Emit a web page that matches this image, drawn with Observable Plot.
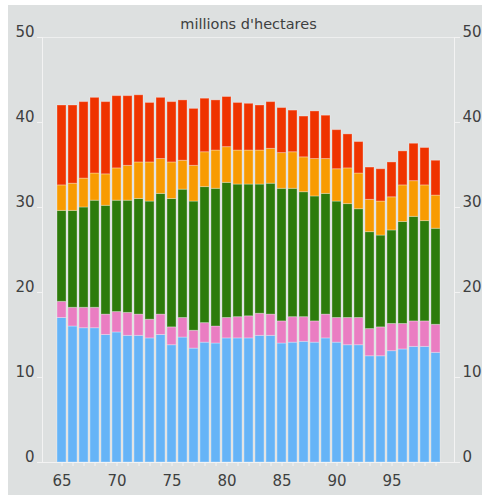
<!DOCTYPE html>
<html><head><meta charset="utf-8">
<script src="https://cdn.jsdelivr.net/npm/d3@7"></script>
<script src="https://cdn.jsdelivr.net/npm/@observablehq/plot@0.6"></script>
<style>
body{margin:0;background:#fff;}
#wrap{position:relative;width:488px;height:495px;overflow:hidden;}
#panel{position:absolute;left:8px;top:5px;width:474px;height:490px;background:#dde0e0;}
#chart{position:absolute;left:0;top:0;}
</style></head><body>
<div id="wrap"><div id="panel"></div><div id="chart"></div></div>
<script>
const years = [1965,1966,1967,1968,1969,1970,1971,1972,1973,1974,1975,1976,1977,1978,1979,1980,1981,1982,1983,1984,1985,1986,1987,1988,1989,1990,1991,1992,1993,1994,1995,1996,1997,1998,1999];
const seriesNames = ["bleu","rose","vert","orange","rouge"];
const blue   = [17.0,16.0,15.8,15.8,15.0,15.3,14.9,14.9,14.6,15.0,13.8,14.7,13.4,14.1,14.0,14.6,14.6,14.6,14.9,14.9,14.0,14.1,14.2,14.1,14.6,14.1,13.8,13.8,12.5,12.5,13.1,13.3,13.6,13.6,12.9];
const pink   = [1.9,2.2,2.4,2.4,2.4,2.4,2.7,2.5,2.2,2.4,2.1,2.3,2.1,2.3,2.0,2.4,2.5,2.6,2.6,2.5,2.6,3.0,2.9,2.5,2.8,2.9,3.2,3.2,3.2,3.4,3.2,3.0,3.0,3.0,3.3];
const green  = [10.7,11.4,11.8,12.6,12.8,13.1,13.2,13.6,13.9,14.2,15.1,15.1,15.2,16.0,16.2,15.9,15.6,15.5,15.2,15.4,15.6,15.1,14.7,14.7,14.2,13.7,13.4,12.8,11.4,10.8,11.0,12.0,12.3,11.8,11.3];
const orange = [3.0,3.2,3.4,3.2,3.7,3.8,4.1,4.3,4.6,4.1,4.3,3.4,4.2,4.1,4.5,4.2,4.0,4.0,4.0,4.1,4.2,4.3,4.1,4.4,4.1,3.8,4.2,4.2,3.8,4.0,3.9,4.3,4.2,4.2,3.9];
const red    = [9.4,9.2,9.0,8.9,8.5,8.5,8.2,7.9,7.0,7.2,7.1,7.1,6.7,6.3,5.9,5.9,5.6,5.5,5.3,5.5,5.3,4.9,4.8,5.6,5.1,4.6,4.0,3.7,3.8,3.8,4.1,4.0,4.4,4.4,4.1];
const colors = ["#66b4f7","#ea7dc2","#2d7b0b","#f89b02","#ef3300"];
const title = "millions d'hectares";
const yTicks = [0,10,20,30,40,50];
const xLabelYears = [1965,1970,1975,1980,1985,1990,1995];
const xLabels = ["65","70","75","80","85","90","95"];

const seriesValues = [blue, pink, green, orange, red];
const table = [];
years.forEach((yr, i) => {
  seriesValues.forEach((arr, k) => table.push({year: yr, series: seriesNames[k], value: arr[i]}));
});

const textColor = "#3e4040";
const lineColor = "#f3f3f3";
const fontSize = 15;

const plot = Plot.plot({
  width: 488, height: 495,
  marginLeft: 42, marginRight: 34, marginTop: 37, marginBottom: 33,
  style: {background: "transparent", fontFamily: "'DejaVu Sans', Verdana, sans-serif", fontSize: fontSize + "px", color: textColor},
  x: {type: "band", domain: years, padding: 0.2, insetLeft: 6, insetRight: 6, label: null},
  y: {domain: [0, 50], label: null},
  color: {domain: seriesNames, range: colors},
  marks: [
    Plot.ruleY([50], {stroke: lineColor, strokeOpacity: 0.8}),
    Plot.ruleY([0], {stroke: lineColor}),
    Plot.frame({anchor: "left", stroke: lineColor}),
    Plot.frame({anchor: "right", stroke: lineColor}),
    Plot.barY(table, {x: "year", y: "value", fill: "series", order: seriesNames, stroke: "#ffffff", strokeOpacity: 0.3, strokeWidth: 1}),
    Plot.axisY(yTicks, {anchor: "left", tickSize: 5, stroke: lineColor, tickFormat: () => "", label: null}),
    Plot.axisY(yTicks, {anchor: "right", tickSize: 5, stroke: lineColor, tickFormat: () => "", label: null}),
    Plot.text(yTicks, {y: d => d, frameAnchor: "left", dx: -8, dy: -5, textAnchor: "end", fill: textColor, fontSize}),
    Plot.text(yTicks, {y: d => d, frameAnchor: "right", dx: 8, dy: -5, textAnchor: "start", fill: textColor, fontSize}),
    Plot.axisX(years, {anchor: "bottom", tickSize: 4, stroke: lineColor, tickFormat: () => "", label: null}),
    Plot.axisX(xLabelYears, {anchor: "bottom", tickSize: 0, tickPadding: 13, fill: textColor, fontSize, tickFormat: d => xLabels[xLabelYears.indexOf(d)], label: null}),
    Plot.text([title], {frameAnchor: "top", dy: -19, fill: textColor, fontSize: 14.5})
  ]
});
document.getElementById("chart").appendChild(plot);
</script>
</body></html>
